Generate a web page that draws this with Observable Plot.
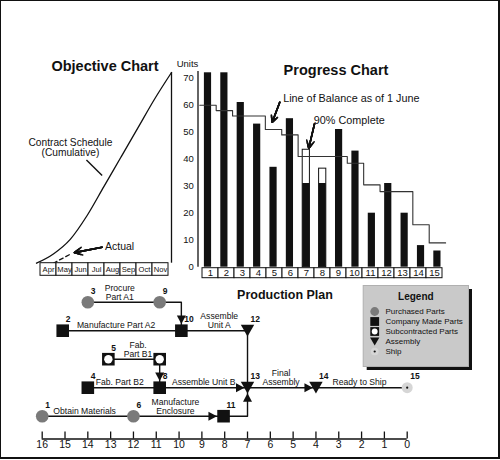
<!DOCTYPE html>
<html><head><meta charset="utf-8">
<script src="https://cdn.jsdelivr.net/npm/d3@7"></script>
<script src="https://cdn.jsdelivr.net/npm/@observablehq/plot@0.6"></script>
<style>
body{margin:0;background:#fff;}
#chart{position:relative;width:500px;height:460px;overflow:hidden;background:#fff;}
#chart svg{position:absolute;left:0;top:0;background:transparent !important;overflow:visible;}
.title{position:absolute;font-family:"Liberation Sans",Arial,Helvetica,sans-serif;font-weight:bold;white-space:nowrap;transform:translate(-50%,-50%);color:#111;line-height:1;}
#frame{position:absolute;left:0;top:0;width:497px;height:456px;border:1px solid #111;border-right-width:2px;border-bottom-width:2px;}
</style></head>
<body><div id="chart"><div id="frame"></div>
<div class="title" style="left:105px;top:66px;font-size:14.5px">Objective Chart</div>
<div class="title" style="left:336px;top:70px;font-size:14.5px">Progress Chart</div>
<div class="title" style="left:285px;top:295px;font-size:12.5px">Production Plan</div>
</div>
<script>
// ---------------- DATA ----------------
// Objective chart
const months = ["Apr","May","Jun","Jul","Aug","Sep","Oct","Nov"];
const scheduleCum = [0, 3.5, 9, 18, 29, 40, 51, 62, 72];   // cumulative units at month boundaries
const actualAt = [1, 2.1];
const actualCum = [0, 3.7];
const objNoteText = ["Contract Schedule", "(Cumulative)", "Actual"];
const objNoteX = [2.01, 2.01, 4.06];
const objNoteY = [45.6, 41.8, 6.4];

// Progress chart
const parts = [1,2,3,4,5,6,7,8,9,10,11,12,13,14,15];
const delivered = [72, 72, 61, 53, 37, 55, 31, 31, 51, 43, 20, 31, 20, 8, 6];
const inProcess = [null, null, null, null, null, null, 43.5, 36.5, null, null, null, null, null, null, null];
const lineOfBalance = [60, 58, 56, 56, 51, 49, 41, 41, 41, 38.5, 30.5, 28, 28, 15.7, 9];
const unitTicks = [0, 10, 20, 30, 40, 50, 60, 70];
const progNoteText = ["Line of Balance as of 1 June", "90% Complete"];
const progNoteX = [6.09, 7.96];
const progNoteY = [62.4, 54.3];

// Production plan
const nodeKeys   = ["n1","n2","n3","n4","n5","n7","n6","n8","n9","n10","n11","n12","n13","n14","n15"];
const nodeLabels = ["1","2","3","4","5","","6","8","9","10","11","12","13","14","15"];
const nodeWeeks  = [16, 15.1, 14, 14, 13.1, 10.85, 12, 10.85, 10.85, 9.9, 8.05, 7, 7, 4, 0];
const nodeRows   = [5, 2, 1, 4, 3, 3, 5, 4, 1, 2, 5, 2, 4, 4, 4];
const nodeTypes  = ["purchased","made","purchased","made","sub","sub","purchased","made","purchased","made","made","assembly","assembly","assembly","ship"];
const linkFrom  = ["n3","n9","n2","n10","n5","n7","n4","n8","n1","n6","n11","n12","n13","n14"];
const linkTo    = ["n9","n10","n10","n12","n7","n8","n8","n13","n6","n11","n13","n13","n14","n15"];
const linkArrow = [false,true,false,false,false,true,false,true,false,true,true,false,true,false];
const activityText = ["Procure\nPart A1","Manufacture Part A2","Assemble\nUnit A","Fab.\nPart B1","Fab. Part B2","Assemble Unit B.","Obtain Materials","Manufacture\nEnclosure","Final\nAssembly","Ready to Ship"];
const activityWeek = [12.6, 12.76, 8.24, 11.8, 12.6, 8.87, 14.14, 10.16, 5.53, 2.09];
const activityRow  = [1, 2, 2, 3, 4, 4, 5, 5, 4, 4];
const weeks = [16,15,14,13,12,11,10,9,8,7,6,5,4,3,2,1,0];

// Legend
const legendLabels = ["Purchased Parts","Company Made Parts","Subcontracted Parts","Assembly","Ship"];
const legendTypes  = ["purchased","made","sub","assembly","ship"];

// ---------------- HELPERS ----------------
const NARROW = '"Liberation Sans Narrow","Arial Narrow","Liberation Sans",Arial,sans-serif';
const REG = '"Liberation Sans",Arial,Helvetica,sans-serif';
const INK = "#111";
const root = document.getElementById("chart");
function overlay(opts) {
  const {style, ...rest} = opts;
  const svg = Plot.plot({width: 500, height: 460, ...rest,
    style: {background: "transparent", overflow: "visible", fontFamily: NARROW, fontSize: "10px", color: INK, ...(style || {})}});
  svg.style.position = "absolute"; svg.style.left = "0"; svg.style.top = "0";
  root.appendChild(svg);
  return svg;
}
function filledArrow(data, o) {
  return [8, 6, 4.5, 3, 1.5].map(h => Plot.arrow(data, {...o, headLength: h, headAngle: 55, stroke: INK, strokeWidth: 1.6}));
}
const sym = {
  square: {draw(c, s) { const r = Math.sqrt(s / Math.PI); c.rect(-r, -r, 2 * r, 2 * r); }},
  triDown: {draw(c, s) { const r = Math.sqrt(s / Math.PI); c.moveTo(-r, -0.87 * r); c.lineTo(r, -0.87 * r); c.lineTo(0, 0.87 * r); c.closePath(); }}
};
function head(dir, gap) {
  const L = 8.5, w = 4.5;
  return {draw(c) {
    if (dir === "right") { c.moveTo(-gap, 0); c.lineTo(-gap - L, -w); c.lineTo(-gap - L, w); }
    else if (dir === "left") { c.moveTo(gap, 0); c.lineTo(gap + L, -w); c.lineTo(gap + L, w); }
    else if (dir === "down") { c.moveTo(0, -gap); c.lineTo(-w, -gap - L); c.lineTo(w, -gap - L); }
    else { c.moveTo(0, gap); c.lineTo(-w, gap + L); c.lineTo(w, gap + L); }
    c.closePath();
  }};
}
function nodeMarks(data, pos, k) {
  const of = t => data.filter(d => d.type === t);
  return [
    Plot.dot(of("purchased"), {...pos, r: 6.3 * k, fill: "#7a7a7a"}),
    Plot.dot(of("made"), {...pos, r: 6.3 * k, symbol: sym.square, fill: INK}),
    Plot.dot(of("sub"), {...pos, r: 6.3 * k, symbol: sym.square, fill: INK}),
    Plot.dot(of("sub"), {...pos, r: 4.2 * k, fill: "white"}),
    Plot.dot(of("assembly"), {...pos, r: 6.7 * k, symbol: sym.triDown, fill: INK}),
    Plot.dot(of("ship"), {...pos, r: 5.5 * k, fill: "#d6d6d6"}),
    Plot.dot(of("ship"), {...pos, r: 1.1, fill: INK})
  ];
}

// ---------------- OBJECTIVE CHART ----------------
const schedule = scheduleCum.map((v, i) => ({m: i, v}));
const actual = actualAt.map((m, i) => ({m, v: actualCum[i]}));
const objNotes = objNoteText.map((t, i) => ({t, x: objNoteX[i], y: objNoteY[i]}));
overlay({
  marginLeft: 36, marginRight: 329, marginTop: 72, marginBottom: 197.3,
  x: {domain: [0, 8], axis: null},
  y: {domain: [0, 72], axis: null},
  marks: [
    Plot.line(schedule, {x: "m", y: "v", curve: "monotone-x", stroke: INK, strokeWidth: 1.3}),
    Plot.ruleX([8], {y1: 0, y2: scheduleCum[scheduleCum.length - 1], stroke: INK, strokeWidth: 1.3}),
    Plot.line(actual, {x: "m", y: "v", stroke: INK, strokeWidth: 1.3, strokeDasharray: "4,3"}),
    Plot.text(objNotes.slice(0, 2), {x: "x", y: "y", text: "t", fontFamily: REG, fontSize: 10.2, fill: INK}),
    Plot.text(objNotes.slice(2), {x: "x", y: "y", text: "t", textAnchor: "start", fontFamily: REG, fontSize: 10.5, fill: INK}),
    Plot.link([{x1: 2.96, y1: 39.0, x2: 3.89, y2: 33.1}], {x1: "x1", y1: "y1", x2: "x2", y2: "y2", stroke: INK, strokeWidth: 1.4}),
    ...filledArrow([{x1: 3.89, y1: 6.0, x2: 2.25, y2: 4.0}], {x1: "x1", y1: "y1", x2: "x2", y2: "y2"})
  ]
});
// month boxes
overlay({
  marginLeft: 36, marginRight: 329, marginTop: 262.7, marginBottom: 184.7,
  x: {type: "band", domain: months, padding: 0, axis: null},
  marks: [
    Plot.cell(months, {x: d => d, fill: "white", stroke: INK, strokeWidth: 1}),
    Plot.text(months, {x: d => d, text: d => d, fontSize: 7.6, fill: INK})
  ]
});

// ---------------- PROGRESS CHART ----------------
const prog = parts.map((p, i) => ({part: p, delivered: delivered[i], inProcess: inProcess[i]}));
const lobPts = lineOfBalance.map((v, i) => ({x: parts[i], y: v})).concat([{x: parts[parts.length - 1] + 1, y: lineOfBalance[lineOfBalance.length - 1]}]);
const progNotes = progNoteText.map((t, i) => ({t, x: progNoteX[i], y: progNoteY[i]}));
overlay({
  marginLeft: 199.3, marginRight: 54.9, marginTop: 77.7, marginBottom: 193.3,
  x: {domain: [1, 16], axis: null},
  y: {domain: [0, 70], ticks: unitTicks, tickSize: 0, tickPadding: 6, label: null},
  style: {fontSize: "9.5px"},
  marks: [
    Plot.ruleX([1], {y1: 0, y2: 72.5, dx: -1.8, stroke: INK, strokeWidth: 1.3}),
    Plot.rectY(prog.filter(d => d.inProcess != null), {x: "part", y: "inProcess", interval: 1, insetLeft: 4.6, insetRight: 4.6, fill: "white", stroke: INK, strokeWidth: 1}),
    Plot.rectY(prog, {x: "part", y: "delivered", interval: 1, insetLeft: 4.6, insetRight: 4.6, fill: INK}),
    Plot.line(lobPts, {x: "x", y: "y", curve: "step-after", stroke: "#333", strokeWidth: 1.1}),
    Plot.text(["Units"], {x: 0.25, y: 75.1, text: d => d, fontSize: 9.5, fill: INK}),
    Plot.text(progNotes, {x: "x", y: "y", text: "t", textAnchor: "start", fontFamily: REG, fontSize: 10.8, fill: INK}),
    ...filledArrow([{x1: 5.88, y1: 61.1, x2: 5.42, y2: 53.7}, {x1: 8.0, y1: 53.1, x2: 7.65, y2: 44.1}], {x1: "x1", y1: "y1", x2: "x2", y2: "y2"})
  ]
});
// part number boxes
overlay({
  marginLeft: 199.3, marginRight: 54.9, marginTop: 267.7, marginBottom: 182.3,
  x: {type: "band", domain: parts, padding: 0, axis: null},
  marks: [
    Plot.cell(parts, {x: d => d, fill: "white", stroke: INK, strokeWidth: 1}),
    Plot.text(parts, {x: d => d, text: d => String(d), fontSize: 9.5, fill: INK})
  ]
});

// ---------------- PRODUCTION PLAN ----------------
const nodes = nodeKeys.map((key, i) => ({key, label: nodeLabels[i], week: nodeWeeks[i], row: nodeRows[i], type: nodeTypes[i]}));
const byKey = new Map(nodes.map(n => [n.key, n]));
const linkPts = [];
const heads = [];
linkFrom.forEach((f, i) => {
  const a = byKey.get(f), b = byKey.get(linkTo[i]);
  linkPts.push({k: i, week: a.week, row: a.row}, {k: i, week: b.week, row: a.row}, {k: i, week: b.week, row: b.row});
  if (linkArrow[i]) {
    const dir = a.row === b.row ? (b.week < a.week ? "right" : "left") : (b.row > a.row ? "down" : "up");
    const gap = b.type === "assembly" ? (dir === "up" ? 5.5 : 3) : 6.6;
    heads.push({week: b.week, row: b.row, dir, gap});
  }
});
const headMarks = d3.groups(heads, h => h.dir + "|" + h.gap).map(([, g]) =>
  Plot.dot(g, {x: "week", y: "row", r: 1, symbol: head(g[0].dir, g[0].gap), fill: INK}));
const activities = activityText.map((t, i) => ({t, week: activityWeek[i], row: activityRow[i]}));
overlay({
  marginLeft: 41.7, marginRight: 93.3, marginTop: 290, marginBottom: 30,
  x: {domain: [16, 0], axis: null},
  y: {domain: [1, 5], range: [301.7, 415.7], axis: null},
  marks: [
    Plot.line(linkPts, {x: "week", y: "row", z: "k", stroke: INK, strokeWidth: 1.4}),
    ...headMarks,
    ...nodeMarks(nodes, {x: "week", y: "row"}, 1),
    Plot.text(nodes, {x: "week", y: "row", text: "label", dx: 3, dy: -11, textAnchor: "start", fontWeight: "bold", fontSize: 8.5, fill: INK}),
    Plot.text(activities, {x: "week", y: "row", text: "t", lineAnchor: "bottom", dy: -2.5, lineHeight: 1.05, fontSize: 8.6, fill: INK})
  ]
});
// week axis
overlay({
  marginLeft: 41.7, marginRight: 93.3, marginTop: 431.5, marginBottom: 21.5,
  x: {domain: [16, 0], ticks: weeks, tickSize: 0, tickPadding: 1.5, label: null, tickFormat: d => String(d)},
  y: {domain: [0, 1], axis: null},
  style: {fontSize: "10.5px"},
  marks: [
    Plot.ruleY([0], {stroke: INK, strokeWidth: 1.3}),
    Plot.tickX(weeks, {x: d => d, stroke: INK, strokeWidth: 1.3})
  ]
});

// ---------------- LEGEND ----------------
const legend = legendLabels.map((label, i) => ({label, type: legendTypes[i]}));
overlay({
  marginLeft: 362.7, marginRight: 32, marginTop: 285, marginBottom: 94,
  y: {type: "point", domain: legendLabels, range: [304.3, 358.3], axis: null},
  marks: [
    Plot.frame({fill: INK, dx: 3.5, dy: 3.5}),
    Plot.frame({fill: "#c9c9c9", stroke: "#b0b0b0"}),
    Plot.text(["Legend"], {frameAnchor: "top", dy: 7.8, text: d => d, fontFamily: REG, fontWeight: "bold", fontSize: 10, fill: INK}),
    ...nodeMarks(legend, {y: "label", frameAnchor: "left", dx: 11.5}, 0.7),
    Plot.text(legend, {y: "label", text: "label", frameAnchor: "left", dx: 22.3, textAnchor: "start", fontSize: 8, fill: INK})
  ]
});
</script>
</body></html>
